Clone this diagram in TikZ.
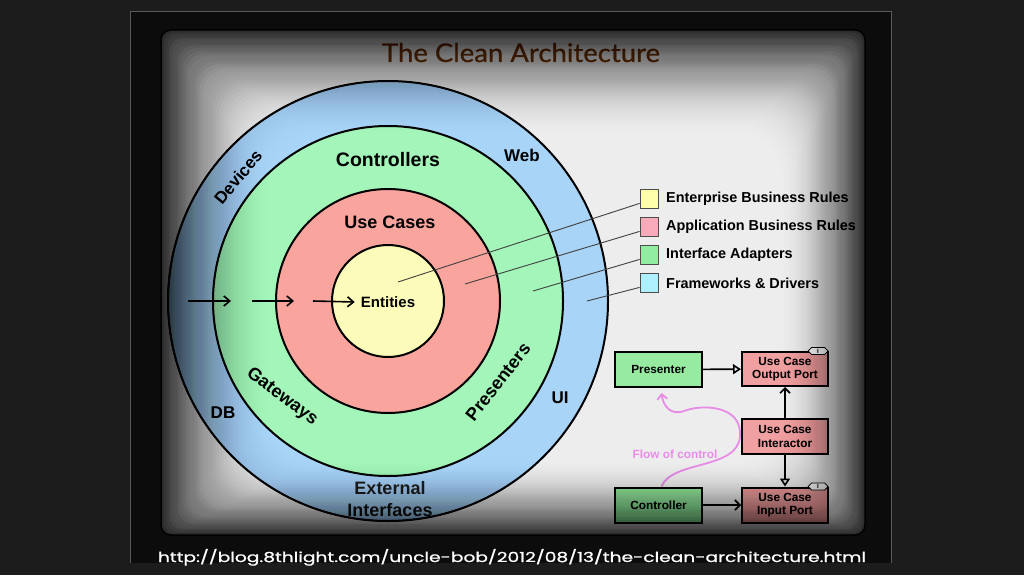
\documentclass[tikz,border=0pt]{standalone}
\usepackage{fontspec}
\setmainfont{Liberation Sans}
\newfontfamily\titlefont[FakeBold=0.8]{Lato}
\newfontfamily\urlfont[FakeBold=0.8]{Poppins}
\usetikzlibrary{arrows.meta,shapes.symbols,calc}
\definecolor{bgdark}{RGB}{28,28,28}
\definecolor{framefill}{RGB}{12,12,12}
\definecolor{frameline}{RGB}{90,90,90}
\definecolor{panelcol}{RGB}{237,237,237}
\definecolor{ringblue}{RGB}{168,212,248}
\definecolor{ringgreen}{RGB}{163,245,185}
\definecolor{ringred}{RGB}{249,165,158}
\definecolor{ringyellow}{RGB}{253,251,185}
\definecolor{legyellow}{RGB}{255,255,170}
\definecolor{legpink}{RGB}{247,170,185}
\definecolor{leggreen}{RGB}{145,238,160}
\definecolor{legcyan}{RGB}{175,240,255}
\definecolor{boxgreen}{RGB}{150,235,160}
\definecolor{boxred}{RGB}{240,160,160}
\definecolor{flowpink}{RGB}{232,140,232}
\definecolor{titlebrown}{RGB}{125,70,25}
\begin{document}
\begin{tikzpicture}[x=1pt,y=-1pt,
  ring/.style={circle, draw=black, line width=2pt, inner sep=0pt},
  lbl/.style={font=\bfseries\fontsize{18}{20}\selectfont, inner sep=0pt},
  legbox/.style={draw=black!70, line width=0.8pt, minimum width=18pt, minimum height=19pt, inner sep=0pt},
  legtxt/.style={font=\bfseries\fontsize{14.4}{16}\selectfont, anchor=west, inner sep=0pt},
  ucbox/.style={draw=black, line width=2pt, minimum width=86pt, minimum height=35pt, inner sep=0pt, align=center, font=\bfseries\fontsize{11.8}{13.5}\selectfont},
  leader/.style={line width=0.9pt, black!75},
  inarr/.style={line width=1.6pt, -{Straight Barb[length=6pt,width=10pt]}},
  uml/.style={line width=1.6pt, -{Triangle[open,length=8pt,width=10pt]}},
  barb/.style={line width=1.6pt, -{Straight Barb[length=5pt,width=10pt]}},
  itag/.style={signal, signal to=east and west, draw=black, line width=0.7pt, fill=white, inner sep=0.3pt, minimum height=7pt, minimum width=20pt, font=\bfseries\fontsize{6}{6}\selectfont}
]
\useasboundingbox (0,0) rectangle (1024,575);
\fill[bgdark] (0,0) rectangle (1024,575);
\fill[framefill] (130,11) rectangle (891,563);
\draw[frameline, line width=0.8pt] (130,563) -- (130,11) -- (891,11) -- (891,563);
\fill[panelcol, rounded corners=10pt] (161,30) rectangle (865,535);

% title
\node[anchor=base, inner sep=0pt, text=titlebrown] (title) at (521,62)
  {\resizebox{278pt}{19pt}{\titlefont\fontsize{24}{24}\selectfont The Clean Architecture}};

% rings
\node[ring, fill=ringblue,   minimum size=440pt] (fw) at (388,301) {};
\node[ring, fill=ringgreen,  minimum size=350pt] (ia) at (388,301) {};
\node[ring, fill=ringred,    minimum size=224pt] (uc) at (388,301) {};
\node[ring, fill=ringyellow, minimum size=112pt] (en) at (388,301) {};

% ring labels
\node[lbl, rotate=50, font=\bfseries\fontsize{17}{19}\selectfont] (devices) at (238,177) {Devices};
\node[lbl, font=\bfseries\fontsize{19.5}{21}\selectfont] (controllers) at (388,160) {Controllers};
\node[lbl, font=\bfseries\fontsize{17}{19}\selectfont] (web) at (522,155) {Web};
\node[lbl] (usecases) at (390,222) {Use Cases};
\node[lbl, font=\bfseries\fontsize{15}{17}\selectfont] (entities) at (388,302) {Entities};
\node[lbl, rotate=-37] (gateways) at (282,397) {Gateways};
\node[lbl, font=\bfseries\fontsize{17}{19}\selectfont] (db) at (223,413) {DB};
\node[lbl, rotate=52] (presenters) at (498,382) {Presenters};
\node[lbl, font=\bfseries\fontsize{17}{19}\selectfont] (ui) at (560,398) {UI};
\node[lbl, font=\bfseries\fontsize{18}{22}\selectfont, align=center, text=black!85] (extif) at (390,499) {External\\Interfaces};

% inward arrows
\coordinate (a1s) at (188,301); \coordinate (a1e) at (231,301);
\coordinate (a2s) at (252,301); \coordinate (a2e) at (294,301);
\coordinate (a3s) at (313,301);
\draw[inarr] (a1s) -- (a1e);
\draw[inarr] (a2s) -- (a2e);
\draw[inarr] (a3s) -- ([xshift=-6pt]entities.west);

% legend
\node[legbox, fill=legyellow] (lg1) at (649,198.5) {};
\node[legbox, fill=legpink]   (lg2) at (649,226.5) {};
\node[legbox, fill=leggreen]  (lg3) at (649,254.5) {};
\node[legbox, fill=legcyan]   (lg4) at (649,282.5) {};
\node[legtxt] (lt1) at (666,199) {Enterprise Business Rules};
\node[legtxt] (lt2) at (666,227) {Application Business Rules};
\node[legtxt] (lt3) at (666,255) {Interface Adapters};
\node[legtxt] (lt4) at (666,283) {Frameworks \& Drivers};

% leader lines
\coordinate (p1) at (398,282);
\coordinate (p2) at (465,284);
\coordinate (p3) at (533,291);
\coordinate (p4) at (587,301);
\draw[leader] (p1) -- ([yshift=5pt]lg1.south west);
\draw[leader] (p2) -- ([yshift=5pt]lg2.south west);
\draw[leader] (p3) -- ([yshift=5pt]lg3.south west);
\draw[leader] (p4) -- ([yshift=5pt]lg4.south west);

% flow diagram
\node[ucbox, fill=boxgreen, minimum width=87pt] (pres) at (658.5,369.5) {Presenter};
\node[ucbox, fill=boxred, minimum height=34pt] (outp) at (785,369) {Use Case\\Output Port};
\node[ucbox, fill=boxred] (inter) at (785,436.5) {Use Case\\Interactor};
\node[ucbox, fill=boxred] (inp) at (785,505) {Use Case\\Input Port};
\node[ucbox, fill=boxgreen, minimum width=87pt] (ctrl) at (658.5,505) {Controller};
\node[itag] (tag1) at ([xshift=-11pt]outp.north east) {I};
\node[itag] (tag2) at ([xshift=-11pt]inp.north east) {I};

\draw[uml] (pres) -- (outp);
\draw[barb] (inter) -- (outp);
\draw[uml] (inter) -- (inp);
\draw[barb] (ctrl) -- (inp);

\coordinate (fstart) at ([xshift=3pt]ctrl.north);
\coordinate (fend) at ([xshift=3pt,yshift=-5pt]pres.south);
\draw[flowpink, line width=1.8pt, -{Straight Barb[length=5pt,width=10pt]}]
  (fstart) .. controls (672,460) and (738,470) .. (740,436)
  .. controls (742,405) and (702,404) .. (684,411)
  .. controls (670,416) and (663,405) .. (fend);
\node[text=flowpink, font=\bfseries\fontsize{11.8}{13}\selectfont, inner sep=0pt] (flowlbl) at (675,454) {Flow of control};

% vignette overlay
\foreach \j in {1,...,40}{
  \pgfmathsetmacro\Ta{1-0.75*(max(1-(\j-1)/40,0.0001))^1.8}
  \pgfmathsetmacro\Tb{1-0.75*(max(1-\j/40,0.0001))^1.8}
  \pgfmathsetmacro\op{1-\Ta/\Tb}
  \pgfmathsetmacro\xl{161+2.75*\j}
  \pgfmathsetmacro\yt{30+2.625*\j}
  \pgfmathsetmacro\xr{865-2.125*\j}
  \pgfmathsetmacro\yb{535-1.875*\j}
  \pgfmathsetmacro\rc{10+1.0*\j}
  \fill[black, fill opacity=\op, even odd rule] [rounded corners=10pt] (161,30) rectangle (865,535) [rounded corners=\rc pt] (\xl,\yt) rectangle (\xr,\yb);
}
\draw[black, line width=1.5pt, rounded corners=10pt] (161,30) rectangle (865,535);

% url
\node[anchor=base, inner sep=0pt, text=white] (url) at (512,562)
  {\resizebox{708pt}{13pt}{\urlfont\fontsize{18}{18}\selectfont http://blog.8thlight.com/uncle-bob/2012/08/13/the-clean-architecture.html}};
\end{tikzpicture}
\end{document}
